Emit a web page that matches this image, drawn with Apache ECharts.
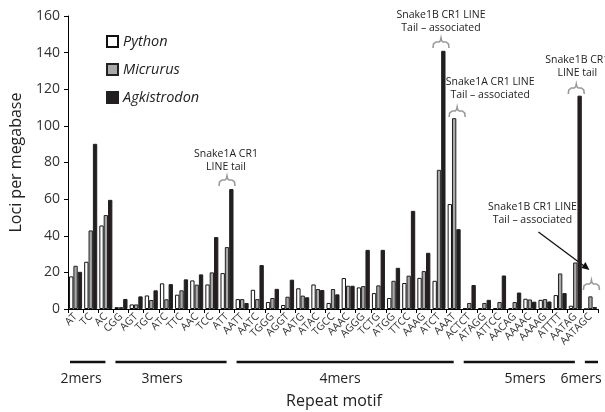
<!DOCTYPE html>
<html>
<head>
<meta charset="utf-8">
<script src="https://cdn.jsdelivr.net/npm/echarts@6/dist/echarts.min.js"></script>
<style>
  html, body { margin: 0; padding: 0; background: #fff; }
  #Chart { width: 605px; height: 412px; }
</style>
</head>
<body>
<div id="Chart"></div>
<script>
var categories = ['AT', 'TC', 'AC', 'CGG', 'AGT', 'TGC', 'ATC', 'TTC', 'AAC', 'TCC', 'ATT',
  'AATT', 'AATC', 'TGGG', 'AGGT', 'AATG', 'ATAC', 'TGCC', 'AAAC', 'AGGG', 'TCTG', 'ATGG', 'TTCC', 'AAAG', 'ATCT', 'AAAT',
  'ACTCT', 'ATAGG', 'ATTCC', 'AACAG', 'AAAAC', 'AAAAG', 'ATTTT', 'AATAG', 'AATAGC'];

var python = [17.8, 25.8, 45.6,
  1, 2.5, 7.4, 14, 7.8, 15.6, 13.4, 19.6,
  5.4, 10.5, 3.8, 2.2, 11.3, 13.4, 3.3, 16.9, 11.8, 8.7, 6, 14.2, 17, 15.4, 57.3,
  0.5, 0.5, 0.5, 0.5, 5.6, 5, 7.6, 1.8,
  0];
var micrurus = [23.6, 42.9, 51.3,
  1, 2.5, 4.9, 5.3, 10.2, 13.3, 20, 33.8,
  5.4, 5.4, 6, 6.7, 7.3, 10.9, 10.9, 12.7, 12.5, 12.9, 15.4, 18.2, 20.7, 76, 104.2,
  3.3, 3.3, 3.8, 3.8, 5.2, 5.4, 19.4, 25.4,
  6.9];
var agkistrodon = [20.3, 90.2, 59.6,
  5.5, 6.9, 10.2, 13.6, 16.2, 18.9, 39.3, 65.5,
  3.3, 24, 11, 16, 6.4, 10.4, 8, 12.7, 32.3, 32.3, 22.5, 53.6, 30.7, 141, 43.6,
  13.1, 5, 18.3, 9, 4, 4.1, 8.7, 116.5,
  1.1];

var yTicks = [0, 20, 40, 60, 80, 100, 120, 140, 160];

// motif length groups: [label, first index, last index]
var groups = [['2mers', 0, 2], ['3mers', 3, 10], ['4mers', 11, 25], ['5mers', 26, 33], ['6mers', 34, 34]];

var font = '"Open Sans", sans-serif';

var Chart = echarts.init(document.getElementById('Chart'));

var ChartOption = {
  animation: false,
  grid: { left: 68, right: 7, top: 16, bottom: 103 },
  legend: {
    orient: 'vertical',
    left: 101, top: 29,
    itemWidth: 11, itemHeight: 11, itemGap: 13,
    icon: 'rect',
    textStyle: { fontFamily: font, fontStyle: 'italic', fontSize: 14.5, color: '#222' },
    data: ['Python', 'Micrurus', 'Agkistrodon']
  },
  xAxis: {
    type: 'category',
    data: categories,
    axisLine: { lineStyle: { color: '#000', width: 1 } },
    axisTick: { show: true, alignWithLabel: false, length: 4, lineStyle: { color: '#000' } },
    axisLabel: { rotate: 45, interval: 0, fontFamily: font, fontSize: 10.5, color: '#333', margin: 6 }
  },
  yAxis: {
    type: 'value',
    min: 0, max: 160, interval: 20,
    name: 'Loci per megabase',
    nameLocation: 'middle',
    nameGap: 44,
    nameTextStyle: { fontFamily: font, fontSize: 16, color: '#222' },
    axisLine: { show: true, lineStyle: { color: '#000' } },
    axisTick: { show: true, length: 4, lineStyle: { color: '#000' } },
    splitLine: { show: false },
    axisLabel: {
      fontFamily: font, fontSize: 14, color: '#333', margin: 8,
      formatter: function (v) { return yTicks.indexOf(v) >= 0 ? String(v) : ''; }
    }
  },
  series: [
    { name: 'Python', type: 'bar', data: python, barGap: '0%', barCategoryGap: '14%',
      itemStyle: { color: '#fff', borderColor: '#111', borderWidth: 1 } },
    { name: 'Micrurus', type: 'bar', data: micrurus, barGap: '0%', barCategoryGap: '14%',
      itemStyle: { color: '#a9a9a9', borderColor: '#222', borderWidth: 1 } },
    { name: 'Agkistrodon', type: 'bar', data: agkistrodon, barGap: '0%', barCategoryGap: '14%',
      itemStyle: { color: '#231f20', borderColor: '#231f20', borderWidth: 1 } }
  ]
};

Chart.setOption(ChartOption);

// annotation helpers
function xAt(i) { return Chart.convertToPixel({ xAxisIndex: 0 }, categories[i]); }
var step = xAt(1) - xAt(0);

function brace(cx, y) {
  return {
    type: 'polyline',
    shape: {
      points: [[cx - 8, y + 6], [cx - 7.5, y + 2], [cx - 5, y], [cx - 2, y], [cx - 0.5, y - 1.5], [cx, y - 4],
        [cx + 0.5, y - 1.5], [cx + 2, y], [cx + 5, y], [cx + 7.5, y + 2], [cx + 8, y + 6]]
    },
    style: { fill: null, stroke: '#9a9a9a', lineWidth: 1.6 }
  };
}
function note(x, y, txt) {
  return {
    type: 'text', x: x, y: y,
    style: { text: txt, fontFamily: font, fontSize: 10.5, fill: '#222', align: 'center', verticalAlign: 'top', lineHeight: 13 }
  };
}

var g = [];
// ATT
g.push(brace(xAt(10), 180));
g.push(note(xAt(10) - 1, 148, 'Snake1A CR1\nLINE tail'));
// ATCT
g.push(brace(xAt(24) + 2, 42));
g.push(note(xAt(24) + 2, 9, 'Snake1B CR1 LINE\nTail \u2013 associated'));
// AAAT
g.push(brace(xAt(25) + 3, 111));
g.push(note(xAt(25) + 36, 76, 'Snake1A CR1 LINE\nTail \u2013 associated'));
// AATAG
g.push(brace(xAt(33) + 1, 88));
g.push(note(xAt(33) + 2, 54, 'Snake1B CR1\nLINE tail'));
// AATAGC
g.push(brace(xAt(34) + 1, 284));
g.push(note(xAt(34) - 58, 201, 'Snake1B CR1 LINE\nTail \u2013 associated'));
g.push({ type: 'line', shape: { x1: xAt(34) - 52, y1: 232, x2: xAt(34) - 5, y2: 267 }, style: { stroke: '#111', lineWidth: 1.3 } });
g.push({ type: 'polygon', shape: { points: [[xAt(34) - 1, 270], [xAt(34) - 9, 268], [xAt(34) - 5, 262]] }, style: { fill: '#111' } });

// group lines and labels
var lineY = 362;
groups.forEach(function (gr) {
  var x1 = xAt(gr[1]) - step / 2 + 2;
  var x2 = xAt(gr[2]) + step / 2 - (gr[2] === categories.length - 1 ? 0 : 8);
  g.push({ type: 'line', shape: { x1: x1, y1: lineY, x2: x2, y2: lineY }, style: { stroke: '#111', lineWidth: 2.5 } });
});
var labelPos = [[81, '2mers'], [162, '3mers'], [340, '4mers'], [525, '5mers'], [581, '6mers']];
labelPos.forEach(function (p) {
  g.push({ type: 'text', x: p[0], y: 372, style: { text: p[1], fontFamily: font, fontSize: 14, fill: '#222', align: 'center', verticalAlign: 'top' } });
});
g.push({ type: 'text', x: 334, y: 393, style: { text: 'Repeat motif', fontFamily: font, fontSize: 16, fill: '#222', align: 'center', verticalAlign: 'top' } });

Chart.setOption({ graphic: g });
window.addEventListener("resize", function () {
  Chart.resize();
});
</script>
</body>
</html>
